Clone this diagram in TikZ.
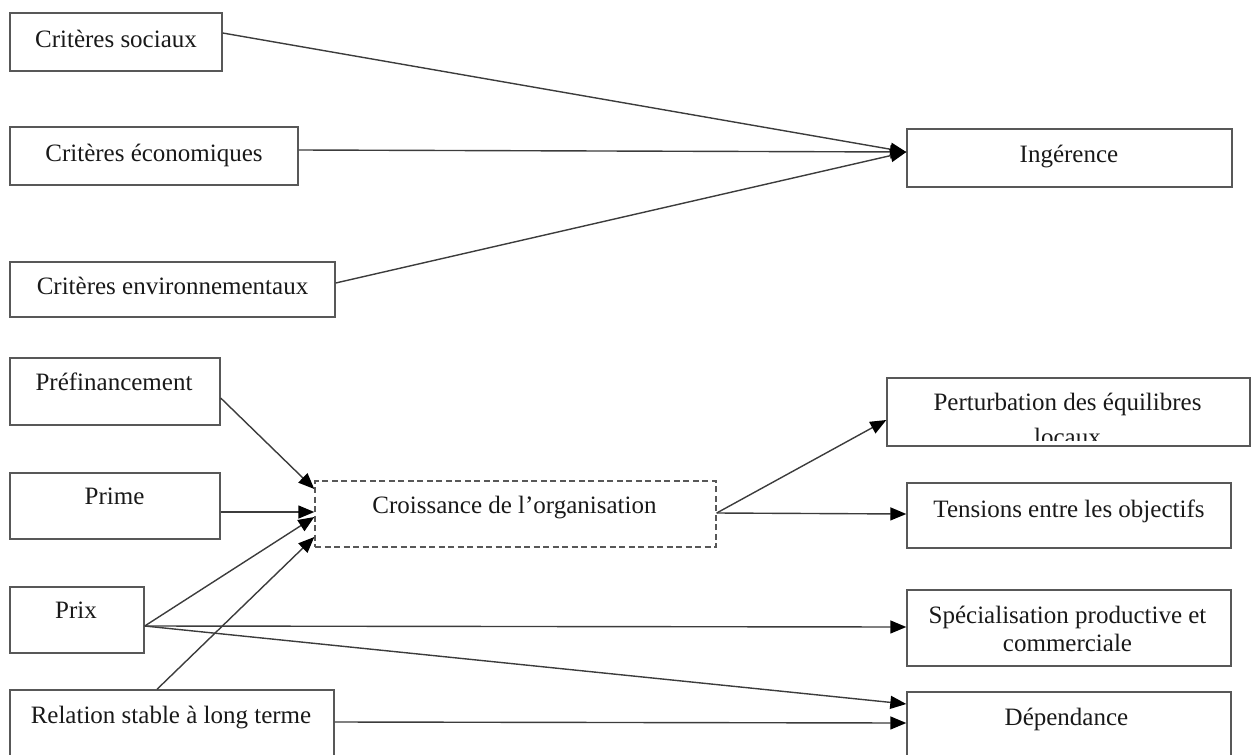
\documentclass[tikz,border=0pt]{standalone}
\usepackage{fontspec}
\setmainfont{Liberation Serif}
\usetikzlibrary{arrows.meta}
\definecolor{boxgray}{RGB}{88,88,88}
\definecolor{linegray}{RGB}{60,60,60}
\definecolor{ink}{RGB}{25,25,25}
\begin{document}
\begin{tikzpicture}[x=1pt,y=-1pt,
  box/.style={draw=boxgray, line width=1.4pt, rectangle, inner sep=0pt},
  dbox/.style={box, dash pattern=on 6pt off 3.5pt},
  txt/.style={anchor=base, inner sep=0pt, font=\fontsize{25}{29}\selectfont, text=ink},
  link/.style={draw=linegray, line width=1.4pt,
    -{Triangle[length=16pt,width=13pt,color=black]}}
]
\useasboundingbox (0,0) rectangle (1253,755);
\clip (0,0) rectangle (1253,755);

% ---- upper block: criteria leading to interference
\node[box, minimum width=212pt, minimum height=58pt] (soc) at (116,42) {};
\node[txt] (soct) at (116,47) {Critères sociaux};
\node[box, minimum width=288pt, minimum height=58pt] (eco) at (154,156) {};
\node[txt] (ecot) at (154,161) {Critères économiques};
\node[box, minimum width=325pt, minimum height=55pt] (env) at (172.5,289.5) {};
\node[txt] (envt) at (172.5,294) {Critères environnementaux};
\node[box, minimum width=325pt, minimum height=58pt] (ing) at (1069.5,158) {};
\node[txt] (ingt) at (1069,162) {Ingérence};

\draw[link] ([yshift=9pt]soc.east) -- ([yshift=6pt]ing.west);
\draw[link] ([yshift=6pt]eco.east) -- ([yshift=6pt]ing.west);
\draw[link] ([yshift=6.5pt]env.east) -- ([yshift=6pt]ing.west);

% ---- lower block: levers, growth and effects
\node[box, minimum width=210pt, minimum height=67pt] (pre) at (115,391.5) {};
\node[txt] (pret) at (114,390) {Préfinancement};
\node[box, minimum width=210pt, minimum height=66pt] (prime) at (115,506) {};
\node[txt] (primet) at (114.5,504) {Prime};
\node[box, minimum width=134pt, minimum height=66pt] (prix) at (77,620) {};
\node[txt] (prixt) at (76,618) {Prix};
\node[box, minimum width=324pt, minimum height=80pt] (rel) at (172,730) {};
\node[txt] (relt) at (171,723) {Relation stable à long terme};

\node[dbox, minimum width=401pt, minimum height=66pt] (cro) at (515.5,514) {};
\node[txt] (crot) at (514.5,513) {Croissance de l’organisation};

\node[box, minimum width=363pt, minimum height=68pt] (pert) at (1068.5,412) {};
% the second line runs past the frame and is cut off
\begin{scope}
  \clip (pert.north west) rectangle ([yshift=6pt]pert.south east);
  \node[txt] (pertt) at (1067.5,410) {Perturbation des équilibres};
  \node[txt] (pertb) at (1067.5,445) {locaux};
\end{scope}
\node[box, minimum width=324pt, minimum height=65pt] (tens) at (1069,515.5) {};
\node[txt] (tenst) at (1069,517) {Tensions entre les objectifs};
\node[box, minimum width=324pt, minimum height=76pt] (spec) at (1069,628) {};
\node[txt] (spect) at (1067.5,623) {Spécialisation productive et};
\node[txt] (specb) at (1067.5,651) {commerciale};
\node[box, minimum width=324pt, minimum height=80pt] (dep) at (1069,732) {};
\node[txt] (dept) at (1066.5,725) {Dépendance};

% inputs to growth
\draw[link] ([yshift=-6.5pt]pre.east) -- ([yshift=25pt]cro.west);
\draw[link] ([yshift=-6pt]prime.east) -- ([yshift=2pt]cro.west);
\draw[link] ([yshift=-6pt]prix.east) -- ([yshift=-3pt]cro.west);
\draw[link] ([xshift=-15pt]rel.north) -- ([yshift=-23pt]cro.west);

% effects of growth
\draw[link] ([yshift=1pt]cro.east) -- ([yshift=-8pt]pert.west);
\draw[link] ([yshift=1pt]cro.east) -- ([yshift=1.5pt]tens.west);

% direct effects of price and stable relation
\draw[link] ([yshift=-6pt]prix.east) -- ([yshift=1pt]spec.west);
\draw[link] ([yshift=-6pt]prix.east) -- ([yshift=28pt]dep.west);
\draw[link] ([yshift=8pt]rel.east) -- ([yshift=9pt]dep.west);
\end{tikzpicture}
\end{document}
